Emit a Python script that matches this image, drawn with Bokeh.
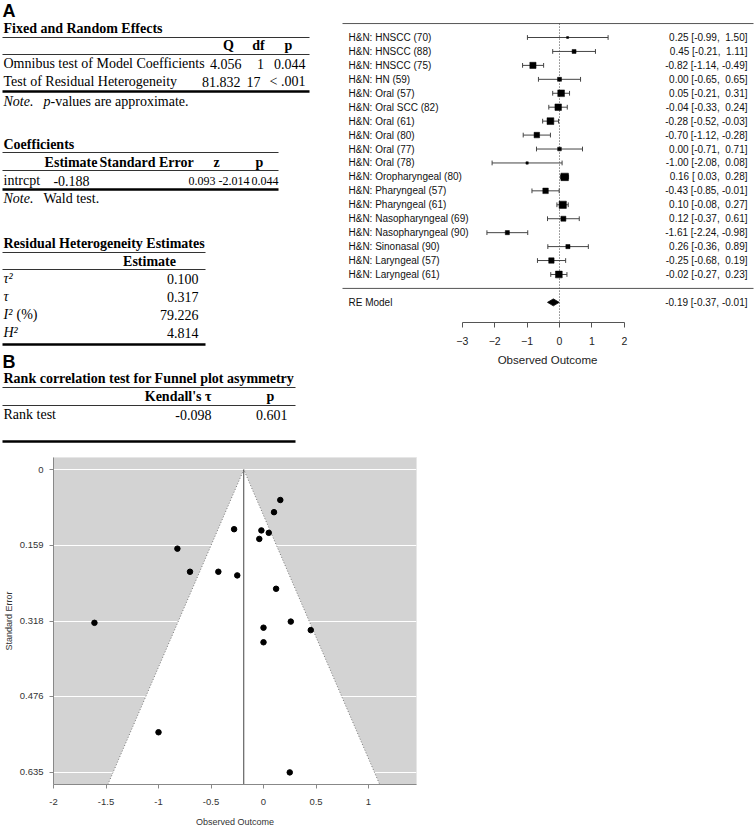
import numpy as np
from bokeh.plotting import figure
from bokeh.models import Range1d, FixedTicker, ColumnDataSource
from bokeh.layouts import column, row
from bokeh.embed import file_html
from bokeh.resources import INLINE
from bokeh.core.properties import value

# ---------------- data ----------------
STUDY_LABELS = [
    "H&N: HNSCC (70)", "H&N: HNSCC (88)", "H&N: HNSCC (75)", "H&N: HN (59)",
    "H&N: Oral (57)", "H&N: Oral SCC (82)", "H&N: Oral (61)", "H&N: Oral (80)",
    "H&N: Oral (77)", "H&N: Oral (78)", "H&N: Oropharyngeal (80)",
    "H&N: Pharyngeal (57)", "H&N: Pharyngeal (61)", "H&N: Nasopharyngeal (69)",
    "H&N: Nasopharyngeal (90)", "H&N: Sinonasal (90)", "H&N: Laryngeal (57)",
    "H&N: Laryngeal (61)",
]
EST = [0.25, 0.45, -0.82, 0.00, 0.05, -0.04, -0.28, -0.70, 0.00, -1.00,
       0.16, -0.43, 0.10, 0.12, -1.61, 0.26, -0.25, -0.02]
CI_LB = [-0.99, -0.21, -1.14, -0.65, -0.21, -0.33, -0.52, -1.12, -0.71, -2.08,
         0.03, -0.85, -0.08, -0.37, -2.24, -0.36, -0.68, -0.27]
CI_UB = [1.50, 1.11, -0.49, 0.65, 0.31, 0.24, -0.03, -0.28, 0.71, 0.08,
         0.28, -0.01, 0.27, 0.61, -0.98, 0.89, 0.19, 0.23]
RE_LABEL = "RE Model"
RE_EST, RE_LB, RE_UB = -0.19, -0.37, -0.01
RE_EST_EXACT = -0.188
TAU2 = 0.100

FOREST_TICKS = [-3, -2, -1, 0, 1, 2]
FUNNEL_XTICKS = [-2, -1.5, -1, -0.5, 0, 0.5, 1]
FUNNEL_XLABELS = ["-2", "-1.5", "-1", "-0.5", "0", "0.5", "1"]
FUNNEL_YTICKS = [0, 0.159, 0.318, 0.476, 0.635]
FUNNEL_YLABELS = ["0", "0.159", "0.318", "0.476", "0.635"]

# tables
T1_TITLE = "Fixed and Random Effects"
T1_COLS = ["Q", "df", "p"]
T1_ROWS = ["Omnibus test of Model Coefficients", "Test of Residual Heterogeneity"]
T1_Q = ["4.056", "81.832"]
T1_DF = ["1", "17"]
T1_P = ["0.044", "< .001"]

T2_TITLE = "Coefficients"
T2_COLS = ["Estimate", "Standard Error", "z", "p"]
T2_ROW = ["intrcpt", "-0.188", "0.093", "-2.014", "0.044"]

T3_TITLE = "Residual Heterogeneity Estimates"
T3_COL = "Estimate"
T3_LABELS = ["τ²", "τ", "I²", "H²"]
T3_VALUES = ["0.100", "0.317", "79.226", "4.814"]

T4_TITLE = "Rank correlation test for Funnel plot asymmetry"
T4_COLS = ["Kendall's τ", "p"]
T4_ROW = ["Rank test", "-0.098", "0.601"]

SERIF = "Liberation Serif"
SANS = "Liberation Sans"

TOTAL_W, TOTAL_H = 756, 828
T_W, TOP_H = 338, 448


def no_align(p):
    try:
        p.frame_align = False
    except Exception:
        pass


def add_text(p, xs, ys, texts, size, font=SERIF, style="normal", align="left",
             color="black", baseline="middle"):
    src = ColumnDataSource(dict(x=list(xs), y=list(ys), t=list(texts)))
    p.text(x="x", y="y", text="t", source=src, text_font=value(font),
           text_font_size=size, text_font_style=style, text_align=align,
           text_baseline=baseline, text_color=color)


def hline(p, x0, x1, y, width=1.2, color="#333333"):
    p.segment(x0=[x0], x1=[x1], y0=[y], y1=[y], line_color=color, line_width=width)


# ---------------- tables (pixel-like coordinates) ----------------
tp = figure(frame_width=T_W, frame_height=TOP_H, x_range=Range1d(0, T_W),
            y_range=Range1d(TOP_H, 0), x_axis_location=None, y_axis_location=None,
            toolbar_location=None, output_backend="svg",
            min_border_left=0, min_border_right=0, min_border_top=0,
            min_border_bottom=0, outline_line_color=None)
tp.grid.visible = False
no_align(tp)

F = "14px"
FN_NUM = "12px"
L = 3  # left edge of table texts
# A
add_text(tp, [2], [10], ["A"], "18px", font=SANS, style="bold")
# table 1
add_text(tp, [L], [28], [T1_TITLE], F, style="bold")
hline(tp, 2, 309, 37)
add_text(tp, [228, 258, 288], [45, 45, 45], T1_COLS, F, style="bold", align="center")
hline(tp, 2, 309, 54)
add_text(tp, [L, L], [63, 81], T1_ROWS, F)
add_text(tp, [241, 240], [63, 81], T1_Q, F, align="right")
add_text(tp, [260, 253], [63, 81], T1_DF, F, align="center")
add_text(tp, [305, 305], [63, 81], T1_P, F, align="right")
hline(tp, 2, 309, 91, width=2.5, color="black")
add_text(tp, [L], [101], ["Note."], F, style="italic")
add_text(tp, [43], [101], ["p"], F, style="italic")
add_text(tp, [50], [101], ["-values are approximate."], F)

# table 2
add_text(tp, [L], [144], [T2_TITLE], F, style="bold")
hline(tp, 2, 278, 152)
add_text(tp, [97], [162], [T2_COLS[0]], F, style="bold", align="right")
add_text(tp, [99], [162], [T2_COLS[1]], F, style="bold", align="left")
add_text(tp, [216, 259], [162, 162], T2_COLS[2:], F, style="bold", align="center")
hline(tp, 2, 278, 170)
add_text(tp, [L], [180], [T2_ROW[0]], F)
add_text(tp, [71], [180], [T2_ROW[1]], F, align="center")
add_text(tp, [215, 249, 278], [180, 180, 180], T2_ROW[2:], FN_NUM, align="right")
hline(tp, 2, 278, 189, width=2.5, color="black")
add_text(tp, [L], [198], ["Note."], F, style="italic")
add_text(tp, [43], [198], ["Wald test."], F)

# table 3
add_text(tp, [L], [243], [T3_TITLE], F, style="bold")
hline(tp, 2, 205, 252)
add_text(tp, [149], [261], [T3_COL], F, style="bold", align="center")
hline(tp, 2, 205, 269)
t3y = [278, 296, 314, 332]
add_text(tp, [L] * 4, t3y, T3_LABELS, F, style="italic")
add_text(tp, [16], [314], ["(%)"], F)
add_text(tp, [198] * 4, t3y, T3_VALUES, F, align="right")
hline(tp, 2, 205, 344, width=2.5, color="black")

# B
add_text(tp, [2], [361], ["B"], "18px", font=SANS, style="bold")
# table 4
add_text(tp, [L], [378], [T4_TITLE], F, style="bold")
hline(tp, 2, 295, 387)
add_text(tp, [211], [396], [T4_COLS[0]], F, style="bold", align="right")
add_text(tp, [270], [396], [T4_COLS[1]], F, style="bold", align="center")
hline(tp, 2, 295, 405)
add_text(tp, [L], [414], [T4_ROW[0]], F)
add_text(tp, [211, 287], [414, 414], T4_ROW[1:], F, align="right")
hline(tp, 2, 295, 441, width=2.5, color="black")

# ---------------- forest plot ----------------
est = np.array(EST)
lb = np.array(CI_LB)
ub = np.array(CI_UB)
k = len(est)
rows = np.arange(k, 0, -1)
se = (ub - lb) / (2 * 1.959964)
w = 1.0 / (se ** 2 + TAU2)
sizes = 2.0 + 5.5 * (w - w.min()) / (w.max() - w.min())

FW = TOTAL_W - T_W
PXU = 32.4          # pixels per outcome unit
ZERO_PX = 221       # x pixel of zero inside the forest figure
ROW_PX = 13.94
FIRST_ROW_PX = 37
AXIS_PX = 322
fx0 = -ZERO_PX / PXU
fx1 = (FW - ZERO_PX) / PXU
fy1 = k + FIRST_ROW_PX / ROW_PX
fy0 = k - (AXIS_PX - FIRST_ROW_PX) / ROW_PX

fp = figure(frame_width=FW, frame_height=AXIS_PX, x_range=Range1d(fx0, fx1),
            y_range=Range1d(fy0, fy1), y_axis_location=None,
            toolbar_location=None, output_backend="svg",
            min_border_left=0, min_border_right=0, min_border_top=0,
            min_border_bottom=TOP_H - AXIS_PX, outline_line_color=None)
fp.grid.visible = False
no_align(fp)

line_c = "#444444"
fp.segment(x0=[fx0 + 4 / PXU] * 2, x1=[fx1 - 3 / PXU] * 2, y0=[k + 1, 0], y1=[k + 1, 0],
           line_color="#555555", line_width=1)
fp.segment(x0=[0], x1=[0], y0=[k + 1], y1=[fy0], line_color=line_c,
           line_dash="1 2", line_width=1)
cap = 0.17
fp.segment(x0=lb, x1=ub, y0=rows, y1=rows, line_color=line_c, line_width=1)
fp.segment(x0=lb, x1=lb, y0=rows - cap, y1=rows + cap, line_color=line_c, line_width=1)
fp.segment(x0=ub, x1=ub, y0=rows - cap, y1=rows + cap, line_color=line_c, line_width=1)
fp.scatter(x=est, y=rows, size=sizes, marker="square", fill_color="black",
           line_color="black", line_width=0.5)
dh = 0.25
fp.patch(x=[RE_LB, RE_EST, RE_UB, RE_EST], y=[-1, -1 + dh, -1, -1 - dh],
         fill_color="black", line_color="black", line_width=0.8)

add_text(fp, [fx0 + 10 / PXU] * k, rows, STUDY_LABELS, "10px", font=SANS, color="#111111")
add_text(fp, [fx0 + 10 / PXU], [-1], [RE_LABEL], "10px", font=SANS, color="#111111")


def fmt(e, l, u):
    return f"{e:.2f} [{l:5.2f}, {u:5.2f}]".replace(" ", "\u00a0")


right_txt = [fmt(e, l, u) for e, l, u in zip(EST, CI_LB, CI_UB)]
RIGHT_X = fx1 - 9 / PXU
add_text(fp, [RIGHT_X] * k, rows, right_txt, "10px", font=SANS,
         align="right", color="#111111")
add_text(fp, [RIGHT_X], [-1], [fmt(RE_EST, RE_LB, RE_UB)], "10px",
         font=SANS, align="right", color="#111111")

ax = fp.xaxis[0]
ax.bounds = (FOREST_TICKS[0], FOREST_TICKS[-1])
ax.ticker = FixedTicker(ticks=FOREST_TICKS)
ax.axis_line_color = "#555555"
ax.major_tick_line_color = "#555555"
ax.major_tick_in = 0
ax.major_tick_out = 5
ax.minor_tick_line_color = None
ax.major_label_text_font = SANS
ax.major_label_text_font_size = "10.5px"
ax.major_label_text_color = "#222222"
ax.major_label_standoff = 9
ax.axis_label = "Observed Outcome"
ax.axis_label_text_font = SANS
ax.axis_label_text_font_size = "11.5px"
ax.axis_label_text_font_style = "normal"
ax.axis_label_text_color = "#222222"
ax.axis_label_standoff = 6

# ---------------- funnel plot ----------------
FN_H = TOTAL_H - TOP_H
FN_LEFT, FN_FRAME_W = 53, 363
FN_TOP, FN_FRAME_H = 9, 327
FN_PXU = 105
se_max = se.max()
ylo, yhi = -0.04 * se_max, 1.04 * se_max
fnx0 = FUNNEL_XTICKS[0]
fnx1 = fnx0 + FN_FRAME_W / FN_PXU

fn = figure(frame_width=FN_FRAME_W, frame_height=FN_FRAME_H,
            x_range=Range1d(fnx0, fnx1), y_range=Range1d(yhi, ylo),
            toolbar_location=None, output_backend="svg",
            min_border_left=FN_LEFT, min_border_right=TOTAL_W - FN_LEFT - FN_FRAME_W,
            min_border_top=FN_TOP, min_border_bottom=FN_H - FN_TOP - FN_FRAME_H,
            background_fill_color="#d3d3d3", outline_line_color="#e6e6e6")
fn.xgrid.visible = False
fn.ygrid.ticker = FixedTicker(ticks=FUNNEL_YTICKS)
fn.ygrid.grid_line_color = "white"
fn.ygrid.grid_line_width = 1.2
no_align(fn)

half = 1.959964 * yhi
fn.patch(x=[RE_EST_EXACT, RE_EST_EXACT - half, RE_EST_EXACT + half],
         y=[0, yhi, yhi], fill_color="white", line_color=None)
fn.line(x=[RE_EST_EXACT - half, RE_EST_EXACT, RE_EST_EXACT + half],
        y=[yhi, 0, yhi], line_color="#777777", line_dash="1 2", line_width=1)
fn.segment(x0=[RE_EST_EXACT], x1=[RE_EST_EXACT], y0=[0], y1=[yhi],
           line_color="#444444", line_width=1)
fn.scatter(x=est, y=se, size=5.5, marker="circle", fill_color="black",
           line_color="black")

xa = fn.xaxis[0]
xa.ticker = FixedTicker(ticks=FUNNEL_XTICKS)
xa.major_label_overrides = {float(t): s for t, s in zip(FUNNEL_XTICKS, FUNNEL_XLABELS)}
xa.axis_label = "Observed Outcome"
xa.major_label_standoff = 10
xa.axis_label_standoff = 9

ya = fn.yaxis[0]
ya.ticker = FixedTicker(ticks=FUNNEL_YTICKS)
ya.major_label_overrides = {float(t): s for t, s in zip(FUNNEL_YTICKS, FUNNEL_YLABELS)}
ya.axis_label = "Standard Error"
ya.major_label_standoff = 6
ya.axis_label_standoff = 3

for a in (xa, ya):
    a.axis_line_color = "#888888"
    a.major_tick_line_color = "#888888"
    a.major_tick_in = 0
    a.major_tick_out = 4
    a.minor_tick_line_color = None
    a.major_label_text_font = SANS
    a.major_label_text_font_size = "9.5px"
    a.major_label_text_color = "#333333"
    a.axis_label_text_font = SANS
    a.axis_label_text_font_size = "9px"
    a.axis_label_text_font_style = "normal"
    a.axis_label_text_color = "#333333"

layout = column(row(tp, fp), fn)
open("out.html", "w").write(file_html(layout, INLINE))
